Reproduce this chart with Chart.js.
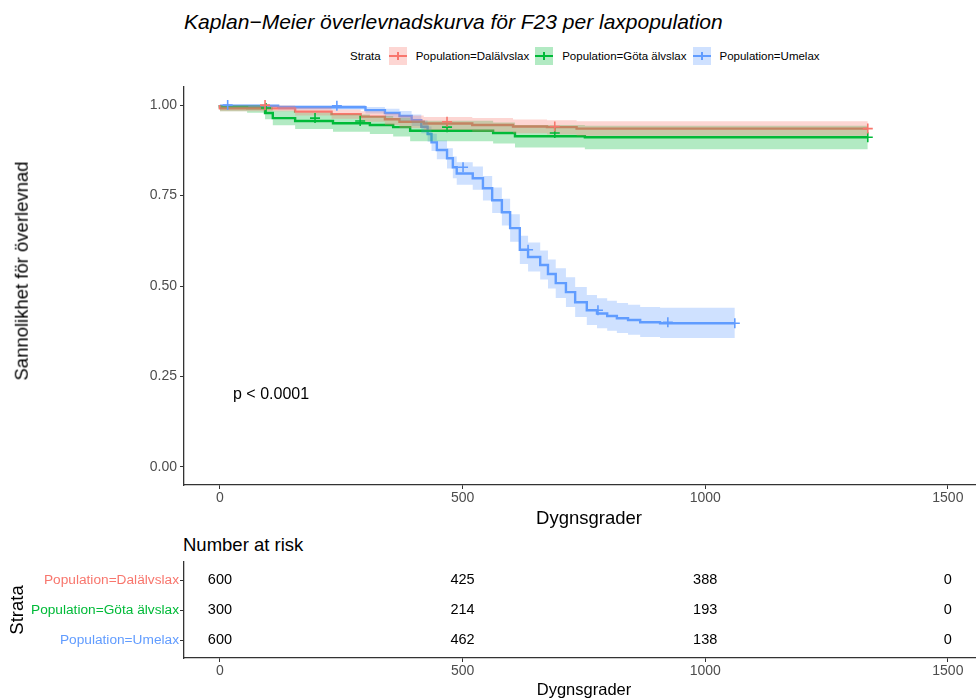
<!DOCTYPE html>
<html><head><meta charset="utf-8">
<script src="https://cdn.jsdelivr.net/npm/chart.js@4/dist/chart.umd.min.js"></script>
<style>
html,body{margin:0;padding:0;background:#fff;}
body{width:976px;height:698px;position:relative;overflow:hidden;font-family:"Liberation Sans",Arial,sans-serif;color:#000;}
#title{position:absolute;left:184px;top:9px;font-size:21px;font-style:italic;white-space:nowrap;line-height:26px;}
#legend{position:absolute;left:350px;top:47px;height:18px;display:flex;align-items:center;font-size:11.5px;white-space:nowrap;}
.key{width:18px;height:18px;position:relative;margin:0 9px 0 8px;}
.key .h{position:absolute;left:0;right:0;top:8px;height:2px;}
.key .v{position:absolute;left:8px;width:2px;top:5px;height:8px;}
#nar{position:absolute;left:183px;top:534px;font-size:18.5px;line-height:22px;white-space:nowrap;}
.atitle{position:absolute;white-space:nowrap;line-height:1;transform:translate(-50%,-50%);}
#ytitle{left:22px;top:271px;font-size:18.5px;transform:translate(-50%,-50%) rotate(-90deg);}
#xtitle{left:589px;top:518px;font-size:18.5px;}
#rxtitle{left:584px;top:689px;font-size:16.5px;}
canvas{position:absolute;left:0;}
#main{top:0;}
#risk{top:530px;}
</style></head>
<body>
<div id="title">Kaplan−Meier överlevnadskurva för F23 per laxpopulation</div>
<div id="legend"></div>
<canvas id="main" width="976" height="530"></canvas>
<div id="ytitle" class="atitle">Sannolikhet för överlevnad</div>
<div id="xtitle" class="atitle">Dygnsgrader</div>
<div id="nar">Number at risk</div>
<canvas id="risk" width="976" height="168"></canvas>
<div id="rxtitle" class="atitle">Dygnsgrader</div>
<script>
// ---------- data ----------
const strata = ['Population=Dalälvslax', 'Population=Göta älvslax', 'Population=Umelax'];
const colors = ['#F8766D', '#00BA38', '#619CFF'];
const bandColors = ['rgba(248,118,109,0.3)', 'rgba(0,186,56,0.3)', 'rgba(97,156,255,0.3)'];

const xTicks = [0, 500, 1000, 1500];
const yTicks = [0, 0.25, 0.5, 0.75, 1.0];

// Dalälvslax
const dalTime  = [0, 155, 230, 290, 340, 370, 420, 520, 604, 674, 735, 1190, 1335];
const dalSurv  = [1.000, 0.991, 0.982, 0.975, 0.968, 0.961, 0.954, 0.949, 0.945, 0.941, 0.939, 0.935, 0.935];
const dalUpper = [1.000, 0.999, 0.993, 0.988, 0.983, 0.977, 0.971, 0.967, 0.964, 0.960, 0.958, 0.955, 0.955];
const dalLower = [1.000, 0.983, 0.971, 0.962, 0.954, 0.945, 0.937, 0.931, 0.926, 0.922, 0.919, 0.915, 0.915];
const dalCensT = [93, 468, 690, 1335];
const dalCensS = [1.000, 0.954, 0.941, 0.935];

// Göta älvslax
const gotaTime  = [0, 56, 93, 109, 155, 233, 309, 357, 392, 563, 608, 752, 810, 1335];
const gotaSurv  = [1.000, 0.994, 0.992, 0.978, 0.964, 0.956, 0.950, 0.945, 0.939, 0.929, 0.923, 0.914, 0.911, 0.911];
const gotaUpper = [1.000, 1.000, 1.000, 0.995, 0.985, 0.979, 0.974, 0.970, 0.965, 0.957, 0.952, 0.945, 0.943, 0.943];
const gotaLower = [1.000, 0.983, 0.979, 0.961, 0.944, 0.934, 0.926, 0.920, 0.913, 0.900, 0.894, 0.883, 0.878, 0.878];
const gotaCensT = [95, 196, 289, 468, 690, 1335];
const gotaCensS = [0.992, 0.964, 0.956, 0.939, 0.923, 0.911];

// Umelax
const umeTime  = [0, 120, 300, 340, 370, 395, 415, 428, 436, 447, 468, 480, 488, 521, 542, 561, 581, 598, 618, 635, 660, 676, 692, 713, 732, 756, 777, 798, 818, 841, 866, 907, 969, 1061];
const umeSurv  = [1.000, 0.998, 0.994, 0.986, 0.978, 0.970, 0.958, 0.940, 0.920, 0.897, 0.876, 0.853, 0.828, 0.811, 0.798, 0.770, 0.737, 0.704, 0.660, 0.600, 0.580, 0.558, 0.533, 0.508, 0.483, 0.455, 0.433, 0.424, 0.417, 0.411, 0.406, 0.400, 0.397, 0.397];
const umeUpper = [1.000, 1.000, 1.000, 0.995, 0.990, 0.984, 0.974, 0.958, 0.941, 0.921, 0.902, 0.881, 0.858, 0.842, 0.830, 0.804, 0.772, 0.741, 0.698, 0.639, 0.620, 0.598, 0.573, 0.549, 0.524, 0.497, 0.475, 0.466, 0.459, 0.453, 0.448, 0.442, 0.440, 0.440];
const umeLower = [1.000, 0.994, 0.988, 0.977, 0.966, 0.956, 0.942, 0.922, 0.899, 0.873, 0.850, 0.825, 0.798, 0.780, 0.766, 0.736, 0.702, 0.667, 0.622, 0.561, 0.540, 0.518, 0.493, 0.467, 0.442, 0.414, 0.392, 0.383, 0.376, 0.370, 0.365, 0.359, 0.356, 0.356];
const umeCensT = [16, 241, 501, 635, 779, 923, 1061];
const umeCensS = [1.000, 0.998, 0.828, 0.600, 0.433, 0.400, 0.397];

// Number at risk
const riskTimes = [0, 500, 1000, 1500];
const riskDal  = [600, 425, 388, 0];
const riskGota = [300, 214, 193, 0];
const riskUme  = [600, 462, 138, 0];

const pValueText = 'p < 0.0001';
const pValueAt = [27, 0.2];

// ---------- build ----------
const FONT = '"Liberation Sans", Arial, sans-serif';
Chart.defaults.font.family = FONT;

const pts = (xs, ys) => xs.map((x, i) => ({x: x, y: ys[i]}));
const groups = [
  {t: dalTime, s: dalSurv, u: dalUpper, l: dalLower, ct: dalCensT, cs: dalCensS},
  {t: gotaTime, s: gotaSurv, u: gotaUpper, l: gotaLower, ct: gotaCensT, cs: gotaCensS},
  {t: umeTime, s: umeSurv, u: umeUpper, l: umeLower, ct: umeCensT, cs: umeCensS}
];

const datasets = [];
groups.forEach((g, i) => {
  datasets.push({label: strata[i] + ' upper', data: pts(g.t, g.u), stepped: 'after', borderColor: 'rgba(0,0,0,0)', borderWidth: 0, pointRadius: 0, fill: false, order: 2});
  datasets.push({label: strata[i] + ' lower', data: pts(g.t, g.l), stepped: 'after', borderColor: 'rgba(0,0,0,0)', borderWidth: 0, pointRadius: 0, fill: '-1', backgroundColor: bandColors[i], order: 2});
});
groups.forEach((g, i) => {
  datasets.push({label: strata[i], data: pts(g.t, g.s), stepped: 'after', borderColor: colors[i], borderWidth: 2.4, pointRadius: 0, fill: false, order: 3});
});
groups.forEach((g, i) => {
  datasets.push({label: strata[i] + ' censor', data: pts(g.ct, g.cs), showLine: false, pointStyle: 'cross', pointRadius: 5, borderColor: colors[i], borderWidth: 1.6, order: 1});
});

const axisGrid = {display: true, drawOnChartArea: false, drawTicks: true, tickLength: 4, color: '#333333', lineWidth: 1};
const axisBorder = {display: true, color: '#333333', width: 1.3};

const pvalPlugin = {
  id: 'pval',
  afterDatasetsDraw(chart) {
    const {ctx} = chart; const x = chart.scales.x, y = chart.scales.y;
    ctx.save();
    ctx.font = '16px ' + FONT; ctx.fillStyle = '#000'; ctx.textAlign = 'left'; ctx.textBaseline = 'middle';
    ctx.fillText(pValueText, x.getPixelForValue(pValueAt[0]), y.getPixelForValue(pValueAt[1]));
    ctx.restore();
  }
};

new Chart(document.getElementById('main'), {
  type: 'line',
  data: {datasets: datasets},
  options: {
    responsive: false, animation: false, events: [],
    layout: {autoPadding: false, padding: {top: 87, left: 0, right: 0, bottom: 0}},
    plugins: {legend: {display: false}, tooltip: {enabled: false}},
    scales: {
      x: {
        type: 'linear', min: -74, max: 1558,
        afterBuildTicks: s => { s.ticks = xTicks.map(v => ({value: v})); },
        afterFit: s => { s.height = 45; },
        ticks: {autoSkip: false, maxRotation: 0, padding: 1, color: '#4D4D4D', font: {size: 14}, callback: v => String(v)},
        grid: axisGrid, border: axisBorder,
        title: {display: false}
      },
      y: {
        type: 'linear', min: -0.05, max: 1.05,
        afterBuildTicks: s => { s.ticks = yTicks.map(v => ({value: v})); },
        afterFit: s => { s.width = 184; },
        ticks: {autoSkip: false, padding: 3, color: '#4D4D4D', font: {size: 14}, callback: v => Number(v).toFixed(2)},
        grid: axisGrid, border: axisBorder,
        title: {display: false}
      }
    }
  },
  plugins: [pvalPlugin]
});

// ---------- risk table ----------
const riskRows = [riskDal, riskGota, riskUme];
const rowPos = [3, 2, 1];
const riskSets = riskRows.map((vals, i) => ({
  label: strata[i], data: riskTimes.map(t => ({x: t, y: rowPos[i]})), riskValues: vals,
  showLine: false, pointRadius: 0
}));
const riskTextPlugin = {
  id: 'riskText',
  afterDatasetsDraw(chart) {
    const {ctx} = chart;
    ctx.save();
    ctx.font = '14.5px ' + FONT; ctx.fillStyle = '#000'; ctx.textAlign = 'center'; ctx.textBaseline = 'middle';
    chart.data.datasets.forEach((ds, i) => {
      const meta = chart.getDatasetMeta(i);
      meta.data.forEach((el, j) => { ctx.fillText(String(ds.riskValues[j]), el.x, el.y); });
    });
    ctx.restore();
  }
};
new Chart(document.getElementById('risk'), {
  type: 'line',
  data: {datasets: riskSets},
  options: {
    responsive: false, animation: false, events: [],
    layout: {autoPadding: false, padding: {top: 32, left: 0, right: 0, bottom: 0}},
    plugins: {legend: {display: false}, tooltip: {enabled: false}},
    scales: {
      x: {
        type: 'linear', min: -74, max: 1558,
        afterBuildTicks: s => { s.ticks = xTicks.map(v => ({value: v})); },
        afterFit: s => { s.height = 40; },
        ticks: {autoSkip: false, maxRotation: 0, padding: 1, color: '#4D4D4D', font: {size: 14}, callback: v => String(v)},
        grid: axisGrid, border: axisBorder,
        title: {display: false}
      },
      y: {
        type: 'linear', min: 0.4, max: 3.6,
        afterBuildTicks: s => { s.ticks = rowPos.map(v => ({value: v})); },
        afterFit: s => { s.width = 184; },
        ticks: {autoSkip: false, padding: 1, font: {size: 13.7},
          color: c => colors[rowPos.indexOf(c.tick.value)],
          callback: v => strata[rowPos.indexOf(v)]},
        grid: axisGrid, border: axisBorder,
        title: {display: true, text: 'Strata', color: '#000', font: {size: 18.5}, padding: {top: 7, bottom: 0}}
      }
    }
  },
  plugins: [riskTextPlugin]
});

// ---------- legend (HTML) ----------
const leg = document.getElementById('legend');
const st = document.createElement('span'); st.textContent = 'Strata'; leg.appendChild(st);
strata.forEach((name, i) => {
  const k = document.createElement('div'); k.className = 'key'; k.style.background = bandColors[i];
  if (i > 0) k.style.marginLeft = '6px';
  const h = document.createElement('div'); h.className = 'h'; h.style.background = colors[i];
  const v = document.createElement('div'); v.className = 'v'; v.style.background = colors[i];
  k.appendChild(h); k.appendChild(v); leg.appendChild(k);
  const t = document.createElement('span'); t.textContent = name; leg.appendChild(t);
});
</script>
</body></html>
